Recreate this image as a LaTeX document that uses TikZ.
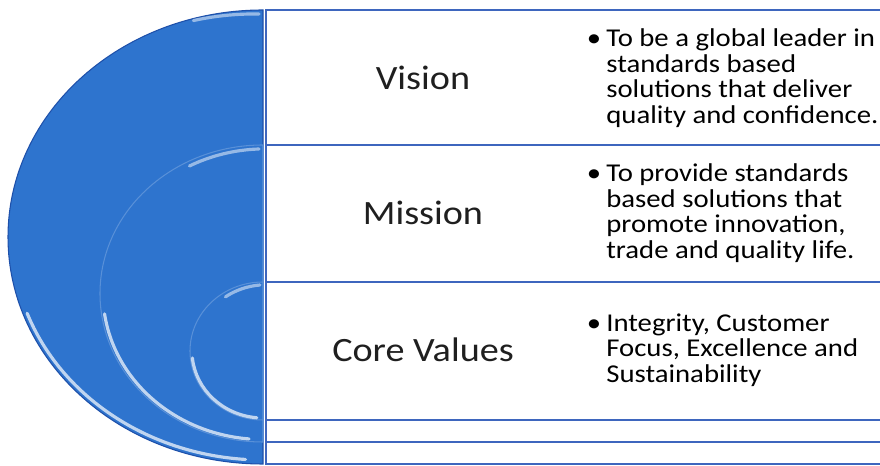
\documentclass[tikz,border=0pt]{standalone}
\usepackage{fontspec}
\setmainfont{Carlito}[FakeStretch=1.12]
\usepackage{tikz}
\usetikzlibrary{positioning}
\definecolor{discblue}{RGB}{46,116,206}
\definecolor{discedge}{RGB}{30,80,170}
\definecolor{framecol}{RGB}{62,102,190}

\tikzset{
  disc/.style={fill=discblue, draw=discedge, line width=0.6pt},
  shine/.style={draw=white, line width=1.8pt, opacity=0.7, line cap=round},
  frame/.style={draw=framecol, line width=0.9pt, fill=white},
  heading/.style={font=\fontsize{19.4}{23}\selectfont, text=black!88},
  bullets/.style={align=left, anchor=west, inner sep=0pt,
    font=\fontsize{14.6}{14.6}\selectfont, text=black}
}

\begin{document}
\begin{tikzpicture}[x=0.02cm, y=0.02cm]
    \useasboundingbox (0,0) rectangle (880,466);
    \clip (0,0) rectangle (880,466);
    \def\cx{263}
    % nested frames on the right
    \draw[frame] (266,456) rectangle (884,2);
    \draw[frame] (266,321) rectangle (884,24);
    \draw[frame] (266,184) rectangle (884,46);
    % half discs, largest first
    \filldraw[disc] (\cx,456) arc[start angle=90, end angle=270, x radius=255, y radius=227] -- cycle;
    \draw[shine, opacity=0.5] (\cx-4,452) arc[start angle=89, end angle=104, x radius=253, y radius=223];
    \draw[shine] (\cx,229)++(200:251 and 223) arc[start angle=200, end angle=266, x radius=251, y radius=223];
    \filldraw[disc, draw=discblue!80!white] (\cx,321) arc[start angle=90, end angle=270, x radius=163, y radius=148.5] -- cycle;
    \draw[shine] (\cx,172.5)++(188:160 and 146) arc[start angle=188, end angle=265, x radius=160, y radius=146];
    \draw[shine, opacity=0.5] (\cx-4,317) arc[start angle=92, end angle=118, x radius=160, y radius=146];
    \filldraw[disc, draw=discblue!80!white] (\cx,184) arc[start angle=90, end angle=270, x radius=73, y radius=69] -- cycle;
    \draw[shine] (\cx,115)++(186:71 and 67) arc[start angle=186, end angle=265, x radius=71, y radius=67];
    \draw[shine, opacity=0.5] (\cx-3,181) arc[start angle=95, end angle=125, x radius=71, y radius=67];
    \draw[framecol, line width=0.9pt] (266,456) -- (266,2);
    % headings
    \node[heading] (vision) at (423,388) {Vision};
    \node[heading] (mission) at (423,253) {Mission};
    \node[heading] (values) at (423,116) {Core Values};
    % bullet texts
    \node[bullets] (visiontxt) at (606,388) {\llap{\textbullet\hspace{3pt}}To be a global leader in\\standards based\\solutions that deliver\\quality and confidence.};
    \node[bullets] (missiontxt) at (606,253) {\llap{\textbullet\hspace{3pt}}To provide standards\\based solutions that\\promote innovation,\\trade and quality life.};
    \node[bullets] (valuestxt) at (606,116) {\llap{\textbullet\hspace{3pt}}Integrity, Customer\\Focus, Excellence and\\Sustainability};
\end{tikzpicture}
\end{document}
